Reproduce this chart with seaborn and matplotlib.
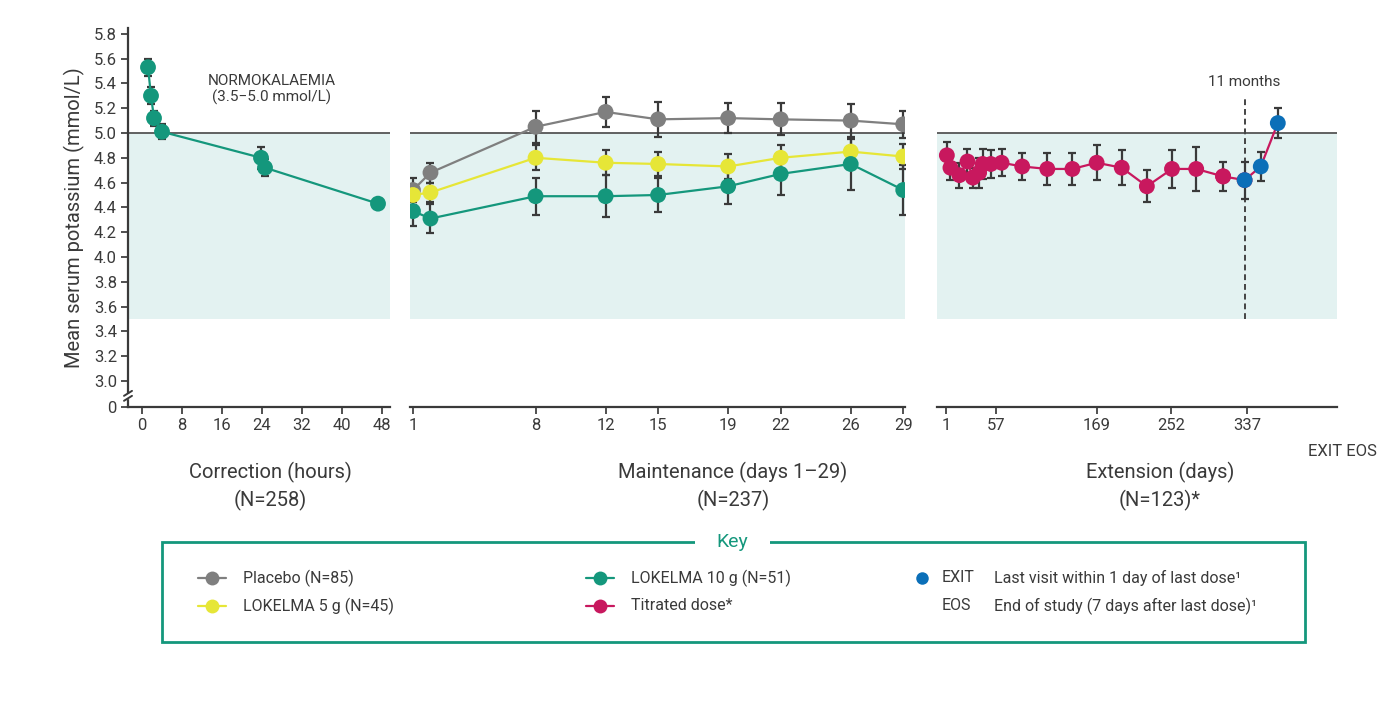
import numpy as np
import pandas as pd
import seaborn as sns
import matplotlib
matplotlib.use("Agg")
import matplotlib.pyplot as plt
from matplotlib.lines import Line2D
from matplotlib.patches import Rectangle

sns.set_theme(style="white")
plt.rcParams['font.family'] = ['Roboto', 'DejaVu Sans']

TEAL = "#14977c"; GRAY = "#7f7f7f"; YEL = "#e6e637"; MAG = "#c8185e"; BLUE = "#0b6fb8"
BAND = "#e3f2f1"; ERR = "#3a3a3a"; TXT = "#3a3a3a"

# Correction (hours)
corr_hours = [1.2, 1.8, 2.4, 4.0, 23.8, 24.6, 47.2]
corr_k = [5.53, 5.30, 5.12, 5.01, 4.80, 4.72, 4.43]
corr_err = [0.07, 0.07, 0.06, 0.06, 0.09, 0.07, 0.0]

# Maintenance (days)
maint_days = [1, 2, 8, 12, 15, 19, 22, 26, 29]
placebo = [4.54, 4.68, 5.05, 5.17, 5.11, 5.12, 5.11, 5.10, 5.07]
placebo_err = [0.10, 0.08, 0.13, 0.12, 0.14, 0.12, 0.13, 0.13, 0.11]
lok5 = [4.50, 4.52, 4.80, 4.76, 4.75, 4.73, 4.80, 4.85, 4.81]
lok5_err = [0.08, 0.08, 0.10, 0.10, 0.10, 0.10, 0.10, 0.10, 0.10]
lok10 = [4.37, 4.31, 4.49, 4.49, 4.50, 4.57, 4.67, 4.75, 4.54]
lok10_err = [0.12, 0.12, 0.15, 0.17, 0.14, 0.14, 0.17, 0.21, 0.20]

# Extension (days)
ext_days = [2, 6, 16, 25, 31, 38, 42, 51, 63, 86, 114, 142, 169, 197, 225, 253, 280, 310]
ext_k = [4.82, 4.72, 4.66, 4.77, 4.64, 4.68, 4.75, 4.75, 4.76, 4.73, 4.71, 4.71, 4.76, 4.72, 4.57, 4.71, 4.71, 4.65]
ext_err = [0.11, 0.10, 0.10, 0.10, 0.08, 0.12, 0.12, 0.11, 0.11, 0.11, 0.13, 0.13, 0.14, 0.14, 0.13, 0.15, 0.18, 0.12]
exit_days = [334, 352, 371]
exit_k = [4.62, 4.73, 5.08]
exit_err = [0.15, 0.12, 0.12]

YMIN, YMAX = 2.79, 5.85
fig = plt.figure(figsize=(14, 7.01), dpi=100)
H = 701
def ypos(px): return 1 - px / H
bottom = ypos(407); top = ypos(27.6)
ax1 = fig.add_axes([128/1400, bottom, 262/1400, top - bottom])
ax2 = fig.add_axes([410/1400, bottom, 495/1400, top - bottom])
ax3 = fig.add_axes([937/1400, bottom, 400/1400, top - bottom])

def style(ax, xlim, left=False):
    ax.set_xlim(*xlim); ax.set_ylim(YMIN, YMAX)
    ax.set_facecolor("none")
    for s in ["top", "right"]:
        ax.spines[s].set_visible(False)
    ax.spines["left"].set_visible(left)
    ax.spines["bottom"].set_color(TXT); ax.spines["bottom"].set_linewidth(1.6)
    ax.axhspan(3.5, 5.0, color=BAND, lw=0, zorder=0)
    ax.axhline(5.0, color="#555555", lw=1.3, zorder=1)
    ax.tick_params(axis="x", bottom=True, length=5, color=TXT, labelsize=12, labelcolor=TXT, pad=3)
    ax.set_xlabel(""); ax.set_ylabel("")
    if left:
        ax.spines["left"].set_color(TXT); ax.spines["left"].set_linewidth(1.6)
        ax.spines["left"].set_bounds(2.79, 5.85)
        yt = [2.79] + list(np.round(np.arange(3.0, 5.81, 0.2), 1))
        ax.set_yticks(yt)
        ax.set_yticklabels(["0"] + [f"{v:.1f}" for v in yt[1:]])
        ax.tick_params(axis="y", left=True, length=5, color=TXT, labelsize=12, labelcolor=TXT, pad=3)
    else:
        ax.set_yticks([])

def series(ax, x, y, e, color, z=3):
    df = pd.DataFrame({"x": x, "y": y})
    ax.errorbar(x, y, yerr=e, fmt="none", ecolor=ERR, elinewidth=1.6, capsize=3, capthick=1.6, zorder=z)
    sns.lineplot(data=df, x="x", y="y", ax=ax, color=color, lw=1.6, zorder=z+1)
    sns.scatterplot(data=df, x="x", y="y", ax=ax, color=color, s=130, edgecolor="none", zorder=z+2)

style(ax1, (-2.8, 49.6), left=True)
series(ax1, corr_hours, corr_k, corr_err, TEAL)
ax1.set_xticks([0, 8, 16, 24, 32, 40, 48])
ax1.set_xlabel(""); ax1.set_ylabel("")
ax1.set_ylabel("Mean serum potassium (mmol/L)", fontsize=14.5, color=TXT, labelpad=6)
ax1.text(26, 5.35, "NORMOKALAEMIA\n(3.5\u22125.0 mmol/L)", ha="center", va="center", fontsize=11, color=TXT, linespacing=1.1)
# axis break marks
for yb in (2.86, 2.90):
    ax1.plot([-3.6, -2.0], [yb - 0.02, yb + 0.02], color=TXT, lw=1.4, clip_on=False, zorder=6)
ax1.add_patch(Rectangle((-3.4, 2.865), 1.2, 0.03, color="white", clip_on=False, zorder=5))

style(ax2, (0.83, 29.1))
series(ax2, maint_days, placebo, placebo_err, GRAY)
series(ax2, maint_days, lok5, lok5_err, YEL)
series(ax2, maint_days, lok10, lok10_err, TEAL)
ax2.set_xticks([1, 8, 12, 15, 19, 22, 26, 29])
ax2.set_xlabel(""); ax2.set_ylabel("")

style(ax3, (-9, 437))
ax3.plot([334, 334], [3.5, 5.29], ls=(0, (3, 2)), color="#444444", lw=1.4, zorder=2)
ax3.text(334, 5.41, "11 months", ha="center", va="center", fontsize=11, color=TXT)
series(ax3, ext_days, ext_k, ext_err, MAG)
series(ax3, [ext_days[-1], exit_days[0]], [ext_k[-1], exit_k[0]], [0, 0], MAG, z=2)
ax3.errorbar(exit_days, exit_k, yerr=exit_err, fmt="none", ecolor=ERR, elinewidth=1.6, capsize=3, capthick=1.6, zorder=3)
sns.lineplot(x=exit_days, y=exit_k, ax=ax3, color=MAG, lw=1.6, zorder=4)
sns.scatterplot(x=exit_days, y=exit_k, ax=ax3, color=BLUE, s=130, edgecolor="none", zorder=5)
ax3.set_xticks([1, 57, 169, 252, 337])
ax3.set_xlabel(""); ax3.set_ylabel("")
fig.text(1342/1400, ypos(451), "EXIT EOS", ha="center", va="center", fontsize=12, color=TXT)

for xc, t1, t2 in [(270, "Correction (hours)", "(N=258)"), (733, "Maintenance (days 1\u201329)", "(N=237)"),
                   (1160, "Extension (days)", "(N=123)*")]:
    fig.text(xc/1400, ypos(472), t1, ha="center", va="center", fontsize=14.5, color=TXT)
    fig.text(xc/1400, ypos(500), t2, ha="center", va="center", fontsize=14.5, color=TXT)

# Key box
fig.patches.append(Rectangle((162/1400, ypos(642)), (1305-162)/1400, (642-542)/H, transform=fig.transFigure,
                             fill=False, edgecolor=TEAL, lw=2))
fig.patches.append(Rectangle((695/1400, ypos(550)), 75/1400, 16/H, transform=fig.transFigure,
                             facecolor="white", edgecolor="none"))
fig.text(732/1400, ypos(542), "Key", ha="center", va="center", fontsize=14, color=TEAL)

def key(x, y, color, label):
    fig.add_artist(Line2D([(x-14)/1400, (x+14)/1400], [ypos(y), ypos(y)], color=color, lw=1.6,
                          marker=None, transform=fig.transFigure))
    fig.add_artist(Line2D([x/1400], [ypos(y)], color=color, marker="o", ms=10, mec="none", transform=fig.transFigure))
    fig.text((x+31)/1400, ypos(y), label, va="center", fontsize=11.5, color=TXT)

key(212, 578, GRAY, "Placebo (N=85)")
key(212, 606, YEL, "LOKELMA 5 g (N=45)")
key(600, 578, TEAL, "LOKELMA 10 g (N=51)")
key(600, 606, MAG, "Titrated dose*")
fig.add_artist(Line2D([922/1400], [ypos(578)], color=BLUE, marker="o", ms=9, mec="none", transform=fig.transFigure))
fig.text(942/1400, ypos(578), "EXIT", va="center", fontsize=11.5, color=TXT)
fig.text(942/1400, ypos(606), "EOS", va="center", fontsize=11.5, color=TXT)
fig.text(994/1400, ypos(578), "Last visit within 1 day of last dose\u00b9", va="center", fontsize=11.5, color=TXT)
fig.text(994/1400, ypos(606), "End of study (7 days after last dose)\u00b9", va="center", fontsize=11.5, color=TXT)

fig.savefig("out.png", dpi=100)
